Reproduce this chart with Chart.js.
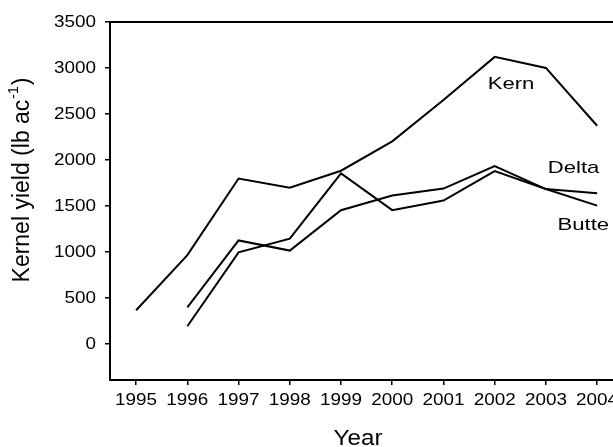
<!DOCTYPE html>
<html>
<head>
<meta charset="utf-8">
<script src="https://cdn.jsdelivr.net/npm/chart.js@4.4.0/dist/chart.umd.min.js"></script>
<style>
  html, body { margin: 0; padding: 0; background: #fff; }
  #wrap { width: 613px; height: 447px; }
</style>
</head>
<body>
<div id="wrap"><canvas id="chart" width="613" height="447"></canvas></div>
<script>
// years on the x axis
const years = [1995, 1996, 1997, 1998, 1999, 2000, 2001, 2002, 2003, 2004];

// kernel yield, lb/ac
const kern  = [360, 960, 1795, 1695, 1880, 2200, 2650, 3120, 3000, 2370];
const delta = [null, 390, 1120, 1010, 1450, 1610, 1685, 1930, 1680, 1635];
const butte = [null, 185, 990, 1140, 1850, 1450, 1555, 1875, 1680, 1500];

const yTicks = [0, 500, 1000, 1500, 2000, 2500, 3000, 3500];

// series name labels placed in data space
const seriesLabels = [
    { text: 'Kern',  x: 2002.32, y: 2820 },
    { text: 'Delta', x: 2003.54, y: 1905 },
    { text: 'Butte', x: 2003.73, y: 1285 }
];

const FONT = "'Liberation Sans', Arial, sans-serif";

function points(vals) {
    return years.map((yr, i) => ({ x: yr, y: vals[i] }));
}

function line(label, vals) {
    return {
        label: label,
        data: points(vals),
        borderColor: '#000',
        borderWidth: 2,
        pointRadius: 0,
        tension: 0,
        fill: false
    };
}

// draws text slightly stretched sideways, like the scanned figure
function stretchedText(ctx, text, x, y, size, sx, align) {
    ctx.save();
    ctx.translate(x, y);
    ctx.scale(sx, 1);
    ctx.font = size + 'px ' + FONT;
    ctx.fillStyle = '#000';
    ctx.textAlign = align || 'center';
    ctx.textBaseline = 'middle';
    ctx.fillText(text, 0, 0);
    ctx.restore();
}

const extras = {
    id: 'extras',
    afterDraw(chart) {
        const ctx = chart.ctx;
        const area = chart.chartArea;
        const xs = chart.scales.x;
        const ys = chart.scales.y;

        // top frame line
        ctx.save();
        ctx.strokeStyle = '#000';
        ctx.lineWidth = 2;
        ctx.beginPath();
        ctx.moveTo(area.left, area.top);
        ctx.lineTo(area.right, area.top);
        ctx.stroke();
        ctx.restore();

        // tick labels, from the scales' own ticks
        xs.ticks.forEach(t => {
            stretchedText(ctx, String(t.value), xs.getPixelForValue(t.value), 401, 16, 1.18);
        });
        ys.ticks.forEach(t => {
            stretchedText(ctx, String(t.value), 96, ys.getPixelForValue(t.value) + 1, 16, 1.18, 'right');
        });

        // series names
        seriesLabels.forEach(l => {
            stretchedText(ctx, l.text, xs.getPixelForValue(l.x), ys.getPixelForValue(l.y), 17, 1.3);
        });

        // x axis title
        stretchedText(ctx, 'Year', 358, 439, 22, 1.1);

        // y axis title with superscript
        ctx.save();
        ctx.translate(23, 181);
        ctx.rotate(-Math.PI / 2);
        ctx.fillStyle = '#000';
        ctx.textBaseline = 'middle';
        const main = 'Kernel yield (lb ac';
        const sup = '-1';
        const close = ')';
        ctx.font = '23px ' + FONT;
        const wMain = ctx.measureText(main).width;
        const wClose = ctx.measureText(close).width;
        ctx.font = '14px ' + FONT;
        const wSup = ctx.measureText(sup).width;
        let x0 = -(wMain + wSup + wClose) / 2;
        ctx.textAlign = 'left';
        ctx.font = '23px ' + FONT;
        ctx.fillText(main, x0, 0);
        ctx.font = '14px ' + FONT;
        ctx.fillText(sup, x0 + wMain + 1, -9);
        ctx.font = '23px ' + FONT;
        ctx.fillText(close, x0 + wMain + wSup + 2, 0);
        ctx.restore();
    }
};

new Chart(document.getElementById('chart'), {
    type: 'line',
    data: {
        datasets: [line('Kern', kern), line('Delta', delta), line('Butte', butte)]
    },
    options: {
        responsive: false,
        animation: false,
        layout: { padding: { top: 22, left: 0, right: 0, bottom: 0 } },
        plugins: {
            legend: { display: false },
            tooltip: { enabled: false }
        },
        scales: {
            x: {
                type: 'linear',
                min: 1994.49,
                max: 2004.31,
                afterBuildTicks: scale => { scale.ticks = years.map(v => ({ value: v })); },
                afterFit: scale => {
                    scale.height = 67;
                    scale.paddingLeft = 0;
                    scale.paddingRight = 0;
                },
                border: { display: true, color: '#000', width: 2 },
                grid: { drawOnChartArea: false, drawTicks: true, tickLength: 5, color: '#000', lineWidth: 1.5 },
                ticks: { display: false, autoSkip: false }
            },
            y: {
                min: -400,
                max: 3500,
                afterBuildTicks: scale => { scale.ticks = yTicks.map(v => ({ value: v })); },
                afterFit: scale => { scale.width = 110; },
                border: { display: true, color: '#000', width: 2 },
                grid: { drawOnChartArea: false, drawTicks: true, tickLength: 5, color: '#000', lineWidth: 1.5 },
                ticks: { display: false }
            }
        }
    },
    plugins: [extras]
});
</script>
</body>
</html>
